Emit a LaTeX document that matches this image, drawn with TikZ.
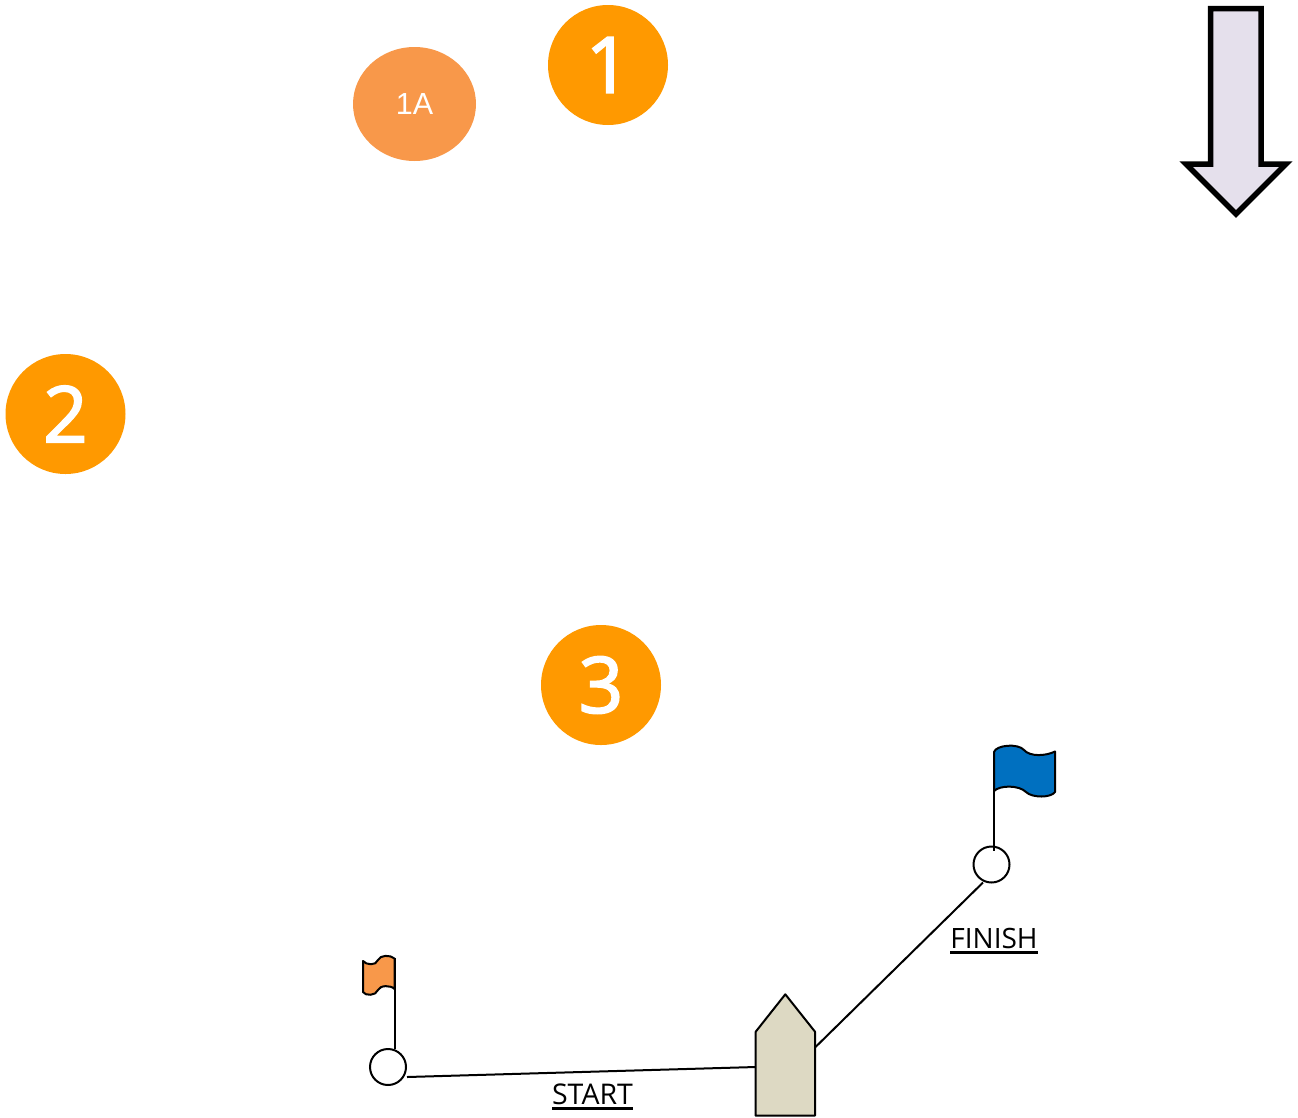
\documentclass[tikz,border=0pt]{standalone}
\usepackage{fontspec}
\usetikzlibrary{shapes.geometric}
\setmainfont{Open Sans}
\newfontfamily\arialfont{Liberation Sans}
\newfontfamily\markfont[FakeBold=2.2]{Open Sans}
\definecolor{markorange}{HTML}{FF9900}
\definecolor{softorange}{HTML}{F8984A}
\definecolor{flagblue}{HTML}{0070C0}
\definecolor{windfill}{HTML}{E5E0EC}
\definecolor{boatfill}{HTML}{DDD9C3}
\newcommand{\ulabel}[1]{\setbox0=\hbox{#1}\rlap{\rule[-5.5pt]{\wd0}{2.8pt}}\box0}
\tikzset{
  markdisc/.style={circle,fill=markorange,minimum size=120pt,inner sep=0pt,text=white,font=\markfont\fontsize{78}{78}\selectfont},
  buoy/.style={circle,draw=black,line width=2pt,fill=white,minimum size=36pt,inner sep=0pt},
  linelabel/.style={inner sep=0pt,text=black},
  wire/.style={draw=black,line width=2pt},
  flagshape/.style={draw=black,line width=2pt,line join=round}
}
\begin{document}
\begin{tikzpicture}[x=1pt,y=-1pt]
\useasboundingbox (0,0) rectangle (1298,1117);
% marks
\node[markdisc] (m1) at (608,65) {1};
\node[ellipse,fill=softorange,minimum width=123pt,minimum height=114pt,inner sep=0pt,text=white,font=\arialfont\fontsize{30.5}{30.5}\selectfont] (m1a) at (414.5,104) {\raisebox{-1pt}{1A}};
\node[markdisc] (m2) at (65.5,414) {2};
\node[markdisc] (m3) at (601,685) {3};
% wind arrow
\draw[draw=black,fill=windfill,line width=5.5pt,miter limit=10]
  (1210.5,8.7) -- (1261,8.7) -- (1261,164) -- (1286,164) -- (1236,214) -- (1186,164) -- (1210.5,164) -- cycle;
% boat
\coordinate (boatW) at (755.7,1067);
\coordinate (boatE) at (815,1047.5);
\coordinate (startEnd) at (407,1077);
\coordinate (finishEnd) at (983,882.5);
\coordinate (poleBlueTop) at (994,760);
\coordinate (poleBlueEnd) at (994,851);
\coordinate (poleOrangeTop) at (394.5,958);
\coordinate (poleOrangeEnd) at (394.5,1049);
\draw[wire] (startEnd) -- (boatW);
\draw[wire] (finishEnd) -- (boatE);
\draw[wire,fill=boatfill,line join=round] (755.7,1115.7) -- (755.7,1031.7) -- (785.3,994.3) -- (815,1031.7) -- (815,1115.7) -- cycle;
% buoys
\node[buoy] (bs) at (388,1067) {};
\node[buoy] (bf) at (991.5,864.5) {};
\draw[wire] (poleOrangeTop) -- (poleOrangeEnd);
\draw[wire] (poleBlueTop) -- (poleBlueEnd);
% flags
\draw[flagshape,fill=flagblue]
  (994,752) .. controls (996,745) and (1018,743) .. (1024,750)
  .. controls (1030,757) and (1046,756) .. (1055,751.5)
  -- (1055,792)
  .. controls (1051,798) and (1032,798) .. (1026,792)
  .. controls (1019,785) and (1000,785) .. (994,791) -- cycle;
\draw[flagshape,fill=softorange]
  (394.5,958.5) .. controls (390,954.5) and (380,955) .. (378,960)
  .. controls (376,966) and (366,965) .. (363,961)
  -- (363,992)
  .. controls (365,996) and (376,996) .. (378,990)
  .. controls (380,985) and (391,985) .. (394.5,989) -- cycle;
% labels
\node[linelabel,anchor=base,font=\fontsize{28.5}{32}\selectfont] (start) at (592.5,1104) {\ulabel{START}};
\node[linelabel,anchor=base,font=\fontsize{28}{32}\selectfont] (finish) at (994,948) {\ulabel{FINISH}};
\end{tikzpicture}
\end{document}
